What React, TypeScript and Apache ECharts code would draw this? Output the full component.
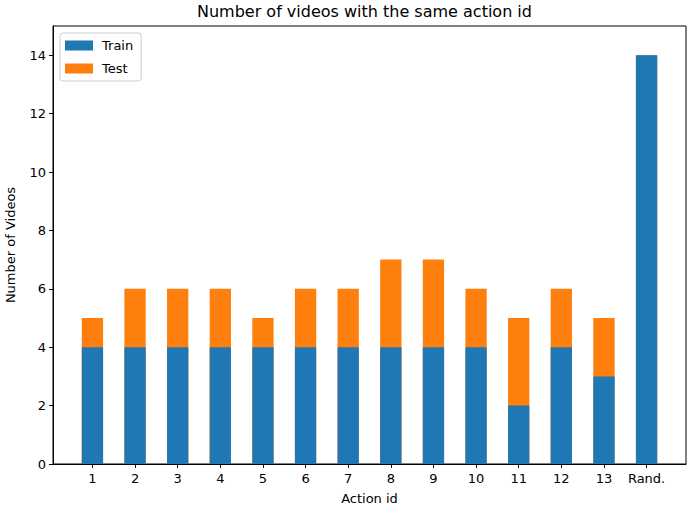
import React, { useEffect, useRef } from "react";
import * as echarts from "echarts";

const categories = ["1", "2", "3", "4", "5", "6", "7", "8", "9", "10", "11", "12", "13", "Rand."];
const trainValues = [4, 4, 4, 4, 4, 4, 4, 4, 4, 4, 2, 4, 3, 14];
const testValues = [1, 2, 2, 2, 1, 2, 2, 3, 3, 2, 3, 2, 2, 0];
const yTicks = [0, 2, 4, 6, 8, 10, 12, 14];

const FONT = "DejaVu Sans";

export default function App() {
  const ref = useRef<HTMLDivElement>(null);
  useEffect(() => {
    if (!ref.current) return;
    const chart = echarts.init(ref.current, null, { renderer: "svg" });
    const positions = categories.map((_, i) => i);
    chart.setOption({
      animation: false,
      backgroundColor: "#ffffff",
      textStyle: { fontFamily: FONT },
      title: {
        text: "Number of videos with the same action id",
        left: 192,
        top: 0,
        padding: [3, 5],
        textStyle: { fontFamily: FONT, fontSize: 16, fontWeight: "normal", color: "#000" },
      },
      legend: {
        orient: "vertical",
        left: 60,
        top: 33,
        itemWidth: 28,
        itemHeight: 10,
        itemGap: 10,
        padding: [6, 8, 6, 5],
        borderColor: "#cccccc",
        borderWidth: 1,
        borderRadius: 3,
        textStyle: { fontFamily: FONT, fontSize: 13, color: "#000", padding: [0, 0, 0, 4] },
        data: [
          { name: "Train", icon: "rect" },
          { name: "Test", icon: "rect" },
        ],
      },
      grid: {
        left: 53,
        right: 11,
        top: 26,
        bottom: 45,
        outerBoundsMode: "none",
        containLabel: false,
        show: true,
        borderColor: "#000",
        borderWidth: 1,
        backgroundColor: "transparent",
      },
      xAxis: {
        type: "value",
        min: -0.925,
        max: 13.925,
        name: "Action id",
        nameLocation: "middle",
        nameGap: 28,
        nameTextStyle: { fontFamily: FONT, fontSize: 13, color: "#000" },
        axisLine: { show: true, onZero: false, lineStyle: { color: "#000" } },
        splitLine: { show: false },
        axisTick: { show: true, length: 4, lineStyle: { color: "#000" }, customValues: positions },
        axisLabel: {
          color: "#000",
          fontFamily: FONT,
          fontSize: 13,
          margin: 8,
          customValues: positions,
          formatter: (v: number) => categories[Math.round(v)] ?? "",
        },
      },
      yAxis: {
        type: "value",
        min: 0,
        max: 15,
        name: "Number of Videos",
        nameLocation: "middle",
        nameGap: 36,
        nameTextStyle: { fontFamily: FONT, fontSize: 13, color: "#000" },
        axisLine: { show: true, onZero: false, lineStyle: { color: "#000" } },
        splitLine: { show: false },
        axisTick: { show: true, length: 4, lineStyle: { color: "#000" }, customValues: yTicks },
        axisLabel: { color: "#000", fontFamily: FONT, fontSize: 13, margin: 7, customValues: yTicks },
      },
      series: [
        {
          // Test bars stacked on top of Train: drawn as the total height, behind Train
          name: "Test",
          type: "bar",
          barWidth: 21.3,
          barGap: "-100%",
          itemStyle: { color: "#ff7f0e" },
          data: testValues.map((v, i) => [positions[i], trainValues[i] + v]),
          z: 1,
        },
        {
          name: "Train",
          type: "bar",
          barWidth: 21.3,
          barGap: "-100%",
          itemStyle: { color: "#1f77b4" },
          data: trainValues.map((v, i) => [positions[i], v]),
          z: 2,
        },
      ],
    });
    return () => chart.dispose();
  }, []);
  return (
    <div
      ref={ref}
      style={{ position: "absolute", left: 0, top: 0, width: 697, height: 509 }}
    />
  );
}
